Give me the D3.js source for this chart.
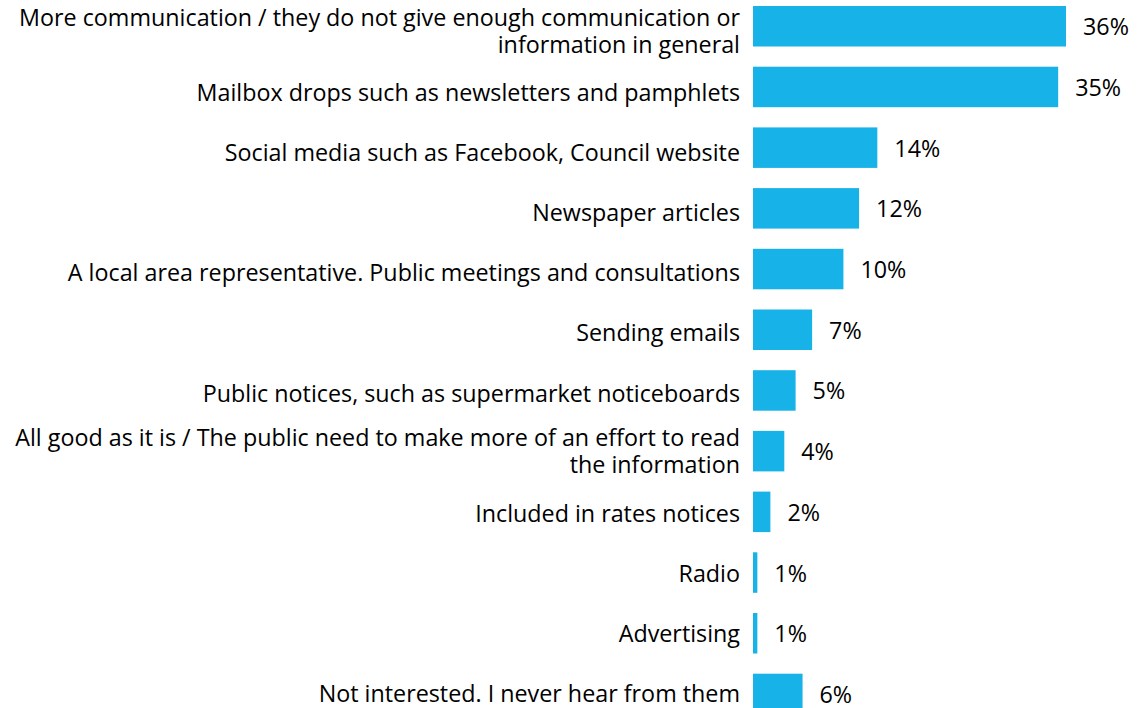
<!DOCTYPE html>
<html>
<head>
<meta charset="utf-8">
<script src="https://cdn.jsdelivr.net/npm/d3@7"></script>
<style>
  html, body { margin: 0; padding: 0; background: #ffffff; }
  svg { display: block; }
</style>
</head>
<body>
<svg id="chart" width="1143" height="708"></svg>
<script>
// ---- data ----
const categories = [
  ["More communication / they do not give enough communication or", "information in general"],
  ["Mailbox drops such as newsletters and pamphlets"],
  ["Social media such as Facebook, Council website"],
  ["Newspaper articles"],
  ["A local area representative. Public meetings and consultations"],
  ["Sending emails"],
  ["Public notices, such as supermarket noticeboards"],
  ["All good as it is / The public need to make more of an effort to read", "the information"],
  ["Included in rates notices"],
  ["Radio"],
  ["Advertising"],
  ["Not interested. I never hear from them"]
];
const values = [36.0, 35.1, 14.3, 12.2, 10.4, 6.8, 4.9, 3.6, 2.0, 0.5, 0.5, 5.7];
const valueLabels = ["36%", "35%", "14%", "12%", "10%", "7%", "5%", "4%", "2%", "1%", "1%", "6%"];

// ---- layout ----
const barLeft = 753, barRightMax = 1066;
const labelRight = 740, labelLeftLimit = 12;
const FONT = "'Open Sans', 'Noto Sans', sans-serif";
const FS = 23.3;
const color = "#16B2E8";

const svg = d3.select("#chart");
const idx = d3.range(values.length);

const y = d3.scaleBand()
  .domain(idx)
  .range([-4.1, 724.3])
  .paddingInner(0.333)
  .paddingOuter(0.1667);

// category label centres (the label column is spaced slightly tighter than the bars)
const yLabel = d3.scalePoint()
  .domain(idx)
  .range([35, 696]);

const x = d3.scaleLinear()
  .domain([0, d3.max(values)])
  .range([barLeft, barRightMax]);

// bars
svg.append("g").selectAll("rect")
  .data(idx)
  .join("rect")
  .attr("x", x(0))
  .attr("y", i => y(i))
  .attr("width", i => x(values[i]) - x(0))
  .attr("height", y.bandwidth())
  .attr("fill", color);

// value labels
svg.append("g").selectAll("text")
  .data(idx)
  .join("text")
  .attr("x", i => x(values[i]) + 17)
  .attr("y", i => y(i) + y.bandwidth() / 2 + 9)
  .attr("font-family", FONT)
  .attr("font-size", FS)
  .attr("fill", "#000")
  .text(i => valueLabels[i]);

// category labels
const lineH = 27;
const cat = svg.append("g").selectAll("text")
  .data(idx)
  .join("text")
  .attr("text-anchor", "end")
  .attr("font-family", FONT)
  .attr("font-size", FS)
  .attr("fill", "#000");

cat.each(function(i) {
  const lines = categories[i];
  const c = yLabel(i);
  const first = c + 6 - (lines.length - 1) * lineH / 2 - (lines.length > 1 ? 2 : 0);
  const t = d3.select(this);
  lines.forEach((ln, k) => {
    const ts = t.append("tspan")
      .attr("x", labelRight)
      .attr("y", first + k * lineH)
      .text(ln);
    const w = ts.node().getComputedTextLength();
    const maxW = labelRight - labelLeftLimit;
    if (w > maxW) {
      ts.attr("textLength", maxW).attr("lengthAdjust", "spacingAndGlyphs");
    }
  });
});
</script>
</body>
</html>
